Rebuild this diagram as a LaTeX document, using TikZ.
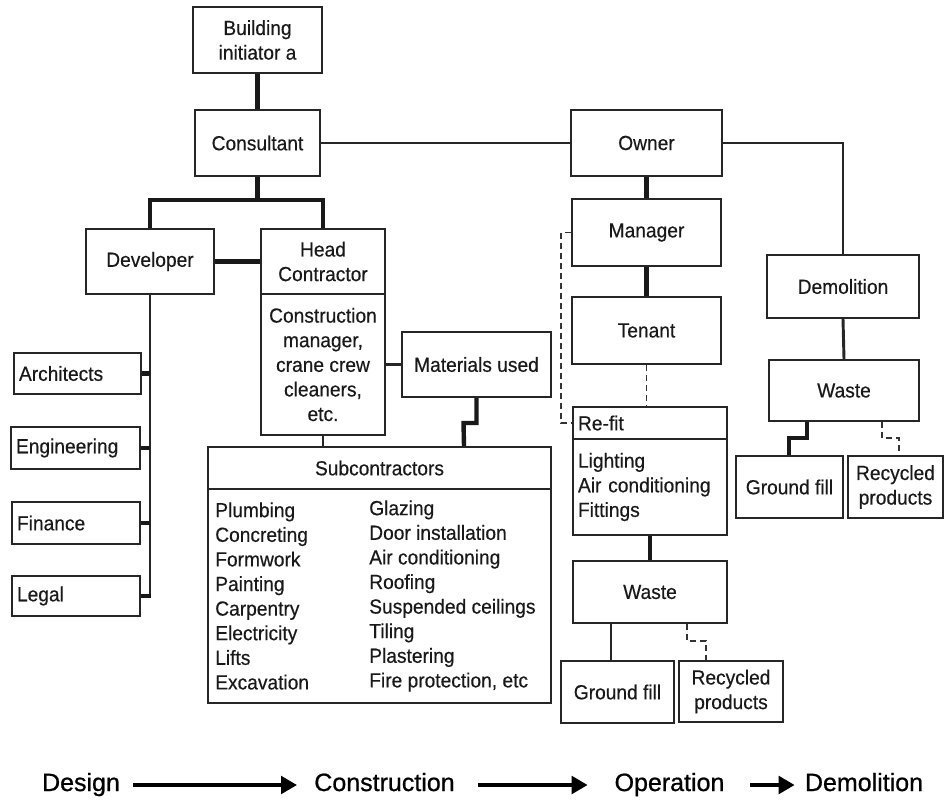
\documentclass[tikz,border=0pt]{standalone}
\usepackage{fontspec}
\setmainfont{Liberation Sans}[FakeStretch=0.94, FakeBold=0.4]
\newfontfamily\labfont{Liberation Sans}[FakeBold=0.8]
\usetikzlibrary{arrows.meta}
\newcommand\nodefont{\fontsize{15.3}{18.45}\selectfont}
\tikzset{
  box/.style={draw=black!85, line width=1.5pt, inner sep=0pt, align=center, font=\nodefont, text=black!90},
  lbox/.style={align=left, text width=#1, inner xsep=3.75pt},
  thinline/.style={line width=1.6pt, draw=black!85},
  medline/.style={line width=2.2pt, draw=black!85},
  thickline/.style={line width=3.3pt, draw=black!90},
  dashline/.style={line width=1.2pt, draw=black!80, dash pattern=on 4.5pt off 3pt},
  plain/.style={inner sep=0pt, font=\nodefont, align=left, text=black!90},
  phase/.style={font=\labfont\fontsize{18.75}{22}\selectfont, inner sep=0pt, text height=13pt, text depth=4pt},
  phasearrow/.style={line width=3pt, -{Triangle[length=12pt,width=13pt]}}
}
% \bx[opts]{name}{x1}{y1}{x2}{y2}{text}
\newcommand\bx[7][]{\node[box, minimum width={(#5-#3)*0.75pt}, minimum height={(#6-#4)*0.75pt}, #1] (#2) at ({(#3+#5)/2},{(#4+#6)/2}) {#7};}
\begin{document}
\begin{tikzpicture}[x=0.75pt, y=-0.75pt]
\useasboundingbox (0,0) rectangle (945,799);
% left / construction side
\bx{bld}{193}{7}{322}{73}{Building\\initiator a}
\bx{cons}{195}{110}{320}{176}{Consultant}
\bx{dev}{86}{229}{214}{294}{Developer}
\bx{head}{261}{229}{385}{294}{Head\\Contractor}
\bx{headb}{261}{294}{385}{435}{Construction\\manager,\\crane crew\\cleaners,\\etc.}
\bx{matl}{402}{332}{551}{397}{Materials used}
\bx{subh}{208}{447}{551}{489}{Subcontractors}
\bx{subb}{208}{489}{551}{703}{}
\node[plain, anchor=west] (subl) at (215,596) {Plumbing\\Concreting\\Formwork\\Painting\\Carpentry\\Electricity\\Lifts\\Excavation};
\node[plain, anchor=west] (subr) at (369,596) {Glazing\\Door installation\\Air conditioning\\Roofing\\Suspended ceilings\\Tiling\\Plastering\\Fire protection, etc};
\bx[lbox=87.75pt]{arch}{14}{353}{141}{394}{Architects}
\bx[lbox=89.25pt]{eng}{11}{427}{140}{469}{Engineering}
\bx[lbox=88.5pt]{fin}{12}{502}{140}{544}{Finance}
\bx[lbox=88.5pt]{legal}{12}{576}{140}{616}{Legal}
% operation side
\bx{owner}{571}{110}{722}{176}{Owner}
\bx{mgr}{572}{199}{721}{266}{Manager}
\bx{tenant}{572}{297}{721}{364}{Tenant}
\bx[lbox=108pt]{refith}{573}{407}{727}{439}{Re-fit}
\bx[lbox=108pt]{refitb}{573}{439}{727}{535}{Lighting\\Air conditioning\\Fittings}
\bx{wasteM}{573}{561}{727}{623}{Waste}
\bx{gfM}{561}{661}{674}{723}{Ground fill}
\bx{recM}{679}{661}{783}{722}{Recycled\\products}
% demolition side
\bx{demol}{767}{255}{919}{318}{Demolition}
\bx{wasteR}{769}{360}{919}{421}{Waste}
\bx{gfR}{736}{456}{843}{518}{Ground fill}
\bx{recR}{848}{456}{943}{518}{Recycled\\products}
% connectors
\draw[thickline] (bld.south) -- (cons.north);
\draw[medline] (cons.east) -- (owner.west);
\draw[thickline] (cons.south) -- ++(0,25);
\draw[thickline] (dev.north) -- ++(0,-28) -| (head.north);
\draw[thickline] (dev.east) -- (head.west);
\draw[medline] (dev.south) -- (dev.south |- legal.east);
\draw[thickline] (arch.east) -- (arch.east -| dev.south);
\draw[thickline] (eng.east) -- (eng.east -| dev.south);
\draw[thickline] (fin.east) -- (fin.east -| dev.south);
\draw[thickline] (legal.east) -- ([xshift=0.8pt]legal.east -| dev.south);
\draw[thinline] (matl.west) -- (matl.west -| headb.east);
\draw[thinline] (headb.south) -- (subh.north -| headb.south);
\draw[thickline] (matl.south) -- ++(0,25) -- ++(-13,0) -- (subh.north -| 464,0);
% operation
\draw[thickline] (owner.south) -- (mgr.north);
\draw[thickline] (mgr.south) -- (tenant.north);
\draw[dashline] (tenant.south) -- (refith.north -| tenant.south);
\draw[dashline] (mgr.west) -- ++(-10,0) |- (refith.west);
\draw[thickline] (refitb.south) -- (wasteM.north);
\draw[medline] (wasteM.south -| 611,0) -- (gfM.north -| 611,0);
\draw[dashline] (wasteM.south -| 687,0) -- ++(0,17) -- ++(19,0) -- (recM.north -| 706,0);
% demolition
\draw[medline] (owner.east) -| (demol.north);
\draw[medline] (demol.south) -- (wasteR.north);
\draw[thickline] (wasteR.south -| 807,0) -- ++(0,16) -- ++(-18,0) -- (gfR.north -| 789,0);
\draw[dashline] (wasteR.south -| 882,0) -- ++(0,16) -- ++(17,0) -- (recR.north -| 899,0);
% phases
\node[phase] (pdes) at (81,785) {Design};
\node[phase] (pcon) at (384.5,785) {Construction};
\node[phase] (pope) at (669.5,785) {Operation};
\node[phase] (pdem) at (864,785) {Demolition};
\draw[phasearrow, shorten <=9.75pt, shorten >=12.75pt] (pdes.east) -- (pcon.west);
\draw[phasearrow, shorten <=17.25pt, shorten >=20pt] (pcon.east) -- (pope.west);
\draw[phasearrow, shorten <=19.2pt, shorten >=7.5pt] (pope.east) -- (pdem.west);
\end{tikzpicture}
\end{document}
